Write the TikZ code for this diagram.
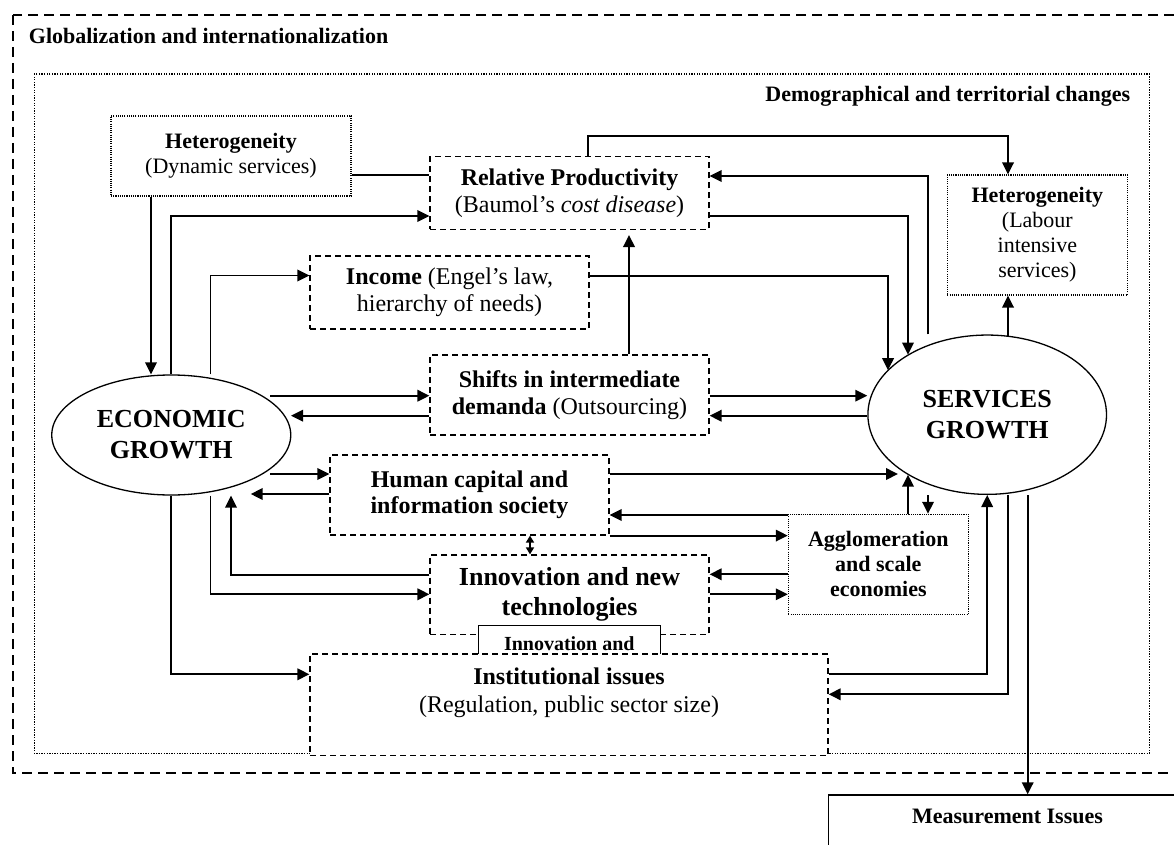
\documentclass[tikz,border=0pt]{standalone}
\usepackage{fontspec}
\setmainfont{Liberation Serif}
\usetikzlibrary{arrows.meta,shapes.geometric}
\newcommand\szA{\fontsize{22}{25}\selectfont}
\newcommand\szB{\fontsize{24}{26.5}\selectfont}
\newcommand\szC{\fontsize{26}{31}\selectfont}
\newcommand\szD{\fontsize{20}{22}\selectfont}
\newcommand\szE{\fontsize{24}{27.5}\selectfont}
\newcommand\szF{\fontsize{26}{30}\selectfont}
\begin{document}
\begin{tikzpicture}[x=1pt,y=-1pt,
  conn/.style={line width=1.9pt},
  arr/.style={conn,-{Triangle[length=12pt,width=11.5pt]}},
  darr/.style={line width=1.6pt,{Triangle[length=7pt,width=8pt]}-{Triangle[length=7pt,width=8pt]}},
  dbox/.style={draw,line width=1.2pt,dash pattern=on 6pt off 4pt,fill=white,inner sep=0pt,align=center},
  obox/.style={draw,line width=1.1pt,dash pattern=on 1.1pt off 1.1pt,fill=white,inner sep=0pt,align=center},
  sbox/.style={draw,line width=1.2pt,fill=white,inner sep=0pt,align=center},
  growth/.style={ellipse,draw,line width=1.3pt,fill=white,inner sep=0pt,align=center,font=\szC\bfseries},
  outerline/.style={line width=1.8pt,dash pattern=on 10pt off 6pt},
  innerline/.style={line width=1.5pt,dash pattern=on 1.3pt off 1.3pt}]
\useasboundingbox (0,0) rectangle (1174,845);
\clip (0,0) rectangle (1174,845);
\fill[white] (0,0) rectangle (1174,845);

% frames
\draw[outerline] (12.6,15) rectangle (1195,773.3);
\draw[innerline] (34.4,74) rectangle (1149.3,753.3);
\node[anchor=west,inner sep=0pt,font=\szA\bfseries] (glob) at (28.7,36) {Globalization and internationalization};
\node[anchor=east,inner sep=0pt,font=\szA\bfseries] (demo) at (1130.4,96.7) {Demographical and territorial changes};

% boxes
\node[obox,minimum width=240,minimum height=80,font=\szA] (het1) at (231,156) {\textbf{Heterogeneity}\\(Dynamic services)};
\node[dbox,minimum width=279,minimum height=72.6,font=\szB] (rp) at (569.5,193) {\textbf{Relative Productivity}\\(Baumol's \textit{cost disease})};
\node[dbox,minimum width=279,minimum height=73,font=\szB] (inc) at (449.5,292.5) {\textbf{Income} (Engel's law,\\hierarchy of needs)};
\node[dbox,minimum width=279,minimum height=80,font=\szB] (shifts) at (569.5,395) {\textbf{Shifts in intermediate}\\\textbf{demanda} (Outsourcing)};
\node[dbox,minimum width=279,minimum height=80,font=\szB\bfseries] (hc) at (469.5,495) {Human capital and\\information society};
\node[dbox,minimum width=279,minimum height=79.3,font=\szF\bfseries] (inn) at (569.5,594.65) {Innovation and new\\technologies};
\node[sbox,minimum width=182,minimum height=42.3] (small) at (569.3,646.85) {};
\node[anchor=base,inner sep=0pt,font=\szD\bfseries] (smallt) at (569.3,650.5) {Innovation and};
\node[dbox,minimum width=518,minimum height=101.7] (inst) at (569,704.85) {};
\node[inner sep=0pt,align=center,font=\szE] (instt) at (569,693) {\textbf{Institutional issues}\\(Regulation, public sector size)};
\node[obox,minimum width=180,minimum height=120,font=\szA] (lab) at (1037.35,235) {\textbf{Heterogeneity}\\(Labour\\intensive\\services)};
\node[obox,minimum width=180,minimum height=100,font=\szA\bfseries] (agg) at (878.3,564.3) {Agglomeration\\and scale\\economies};
\node[growth,minimum width=239,minimum height=120] (eg) at (171.25,435) {ECONOMIC\\GROWTH};
\node[growth,minimum width=238.6,minimum height=159.3] (sg) at (987.2,414.7) {SERVICES\\GROWTH};
\node[sbox,anchor=north west,minimum width=380,minimum height=120] (meas) at (828,794.3) {};
\node[inner sep=0pt,font=\szA\bfseries] (meast) at (1007.5,816.7) {Measurement Issues};

% connectors
\draw[conn] (het1.east |- 0,175) -- (rp.west |- 0,175);
\draw[arr] (het1.south -| 151,0) -- (151,0 |- eg.north);
\draw[arr] (eg.north) |- (rp.west |- 0,216);
\draw[arr] (210.5,0 |- eg.north) |- (inc.west |- 0,275.5);
\draw[arr] (588.3,0 |- rp.north) -- (588.3,135.7) -| (1008,0 |- lab.north);
\draw[arr] (928,0 |- sg.north) -- (928,176) -- (rp.east |- 0,176);
\draw[arr] (rp.east |- 0,216) -| (908,0 |- sg.143);
\draw[arr] (inc.east |- 0,276) -| (888,0 |- sg.156);
\draw[arr] (629,0 |- shifts.north) -- (629,235);
\draw[arr] (270,395.7) -- (shifts.west |- 0,395.7);
\draw[arr] (shifts.west |- 0,415.7) -- (291,415.7);
\draw[arr] (shifts.east |- 0,395.7) -- (sg.west |- 0,395.7);
\draw[arr] (sg.west |- 0,415.7) -- (shifts.east |- 0,415.7);
\draw[arr] (1008,0 |- sg.75) -- (1008,0 |- lab.south);
\draw[arr] (270,474) -- (hc.west |- 0,474);
\draw[arr] (hc.west |- 0,494) -- (250.7,494);
\draw[arr] (hc.east |- 0,474) -- (898,474);
\draw[arr] (agg.west |- 0,515) -- (hc.east |- 0,515);
\draw[arr] (hc.south east) -- (agg.west |- hc.south east);
\draw[darr] (530,0 |- hc.south) -- (530,0 |- inn.north);
\draw[arr] (inn.west |- 0,575) -| (231,0 |- eg.south);
\draw[arr] (210.5,0 |- eg.south) |- (inn.west |- 0,594.3);
\draw[arr] (agg.west |- 0,574.3) -- (inn.east |- 0,574.3);
\draw[arr] (inn.east |- 0,594.3) -- (agg.west |- 0,594.3);
\draw[arr] (908,0 |- agg.north) -- (908,0 |- sg.217);
\draw[arr] (928,0 |- sg.south) -- (928,0 |- agg.north);
\draw[arr] (eg.south) |- (inst.west |- 0,674.3);
\draw[arr] (inst.east |- 0,674.3) -| (sg.south);
\draw[arr] (1008,0 |- sg.south) |- (inst.east |- 0,694.3);
\draw[arr] (1027.7,0 |- sg.south) -- (1027.7,0 |- meas.north);
\end{tikzpicture}
\end{document}
